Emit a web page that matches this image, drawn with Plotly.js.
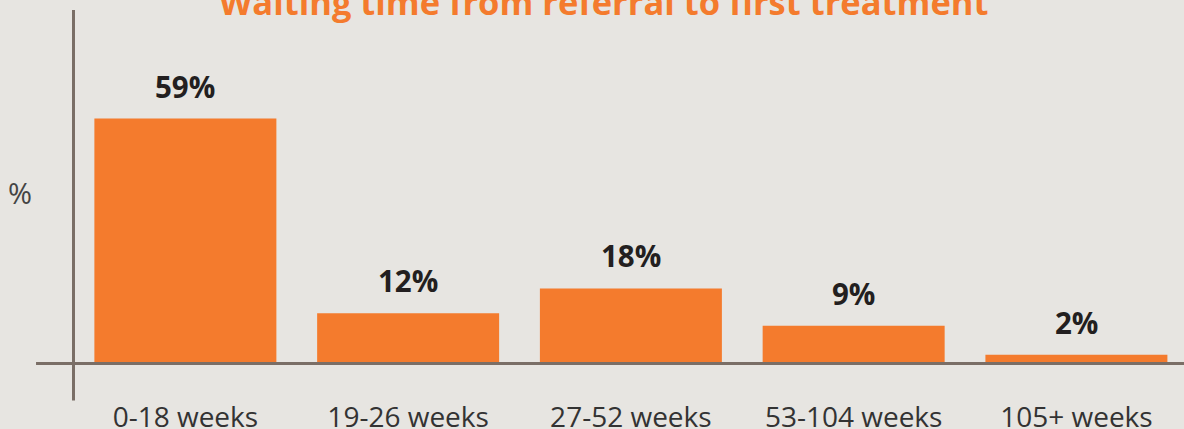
<!DOCTYPE html>
<html>
<head>
<meta charset="utf-8">
<script src="https://cdn.plot.ly/plotly-3.0.1.min.js"></script>
<style>
  html, body { margin: 0; padding: 0; background: #e7e5e1; }
  #chart { width: 1184px; height: 429px; }
</style>
</head>
<body>
<div id="chart"></div>
<script>
const categories = ["0-18 weeks", "19-26 weeks", "27-52 weeks", "53-104 weeks", "105+ weeks"];
const values = [59, 12, 18, 9, 2];
const valueLabels = ["59%", "12%", "18%", "9%", "2%"];
const chartTitle = "Waiting time from referral to first treatment";
const yAxisLabel = "%";

const bg = "#e7e5e1";
const barColor = "#f47b2d";
const axisColor = "#7a6e66";

const trace = {
  type: "bar",
  x: categories,
  y: values,
  marker: { color: barColor, line: { width: 0 } },
  hoverinfo: "none"
};

const labelAnnotations = categories.map((c, i) => ({
  x: c, y: values[i], xref: "x", yref: "y",
  text: valueLabels[i], showarrow: false,
  yanchor: "bottom", yshift: 10,
  font: { family: "Open Sans", size: 29.5, color: "#231f20", weight: 700 }
}));

const layout = {
  width: 1184, height: 429,
  paper_bgcolor: bg, plot_bgcolor: bg,
  margin: { l: 74, r: 0, t: 10, b: 65.5 },
  bargap: 0.183,
  showlegend: false,
  font: { family: "Open Sans" },
  xaxis: {
    type: "category",
    range: [-0.5, 4.483],
    showline: false, showgrid: false, zeroline: false,
    ticks: "outside", ticklen: 29, tickcolor: "rgba(0,0,0,0)",
    tickfont: { family: "Open Sans", size: 28, color: "#333333" },
    fixedrange: true
  },
  yaxis: {
    range: [0, 85.2],
    showline: false, showgrid: false, zeroline: false,
    showticklabels: false, ticks: "",
    fixedrange: true
  },
  shapes: [
    { type: "line", xref: "paper", yref: "paper",
      x0: -0.00045, x1: -0.00045, y0: 1.0, y1: -0.106,
      line: { color: axisColor, width: 3 } },
    { type: "line", xref: "paper", yref: "paper",
      x0: -0.0342, x1: 1.0, y0: -0.0014, y1: -0.0014,
      line: { color: axisColor, width: 3 } }
  ],
  annotations: labelAnnotations.concat([
    { text: yAxisLabel, xref: "paper", yref: "paper", x: -0.0486, y: 0.482,
      xanchor: "center", yanchor: "middle", showarrow: false,
      font: { family: "Open Sans", size: 29, color: "#444444" } },
    { text: chartTitle, xref: "paper", yref: "paper", x: 0.477, y: 1.025,
      xanchor: "center", yanchor: "middle", showarrow: false,
      font: { family: "Open Sans", size: 34.5, color: barColor, weight: 700 } }
  ])
};

Plotly.newPlot("chart", [trace], layout, { displayModeBar: false, staticPlot: true });
</script>
</body>
</html>
